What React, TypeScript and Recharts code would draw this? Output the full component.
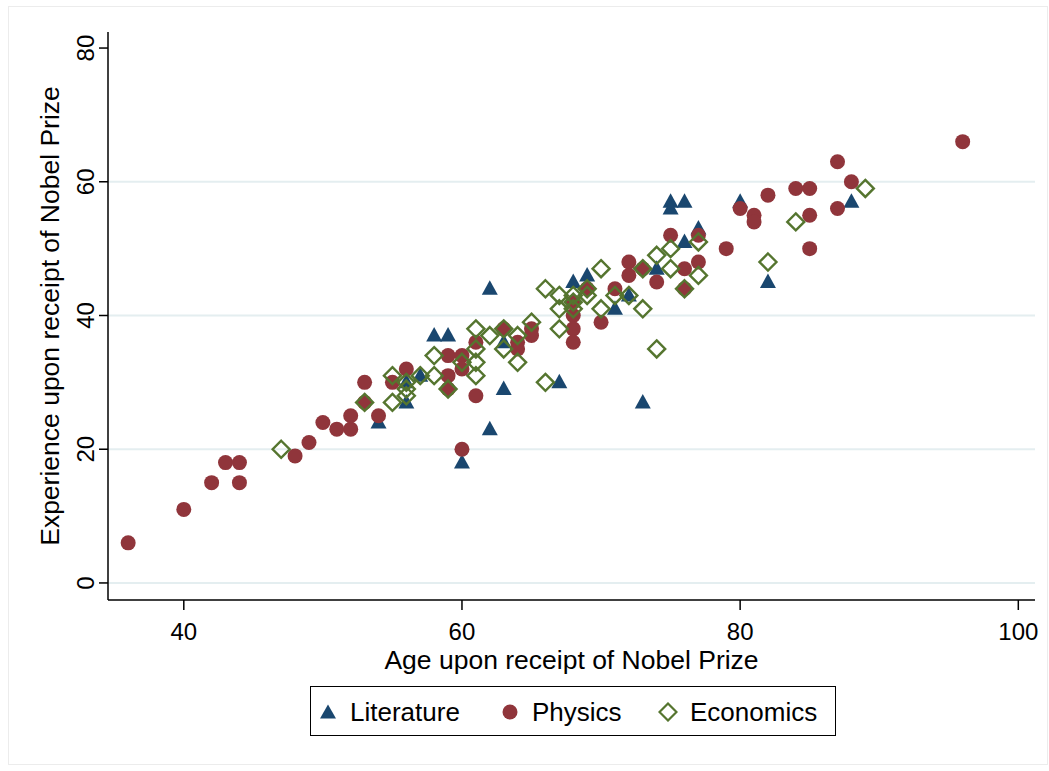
import React from 'react';
import { ScatterChart, Scatter, XAxis, YAxis, ReferenceLine } from 'recharts';

// Nobelpris: alder ved tildeling mot erfaring, tre fagfelt.
const litAge = [54, 56, 56, 57, 58, 59, 60, 62, 62, 63, 63, 67, 68, 69, 71, 72, 73, 74, 75, 75, 76, 76, 77, 80, 82, 88];
const litExp = [24, 27, 30, 31, 37, 37, 18, 44, 23, 36, 29, 30, 45, 46, 41, 43, 27, 47, 57, 56, 57, 51, 53, 57, 45, 57];

const phyAge = [36, 40, 42, 43, 44, 44, 48, 49, 50, 51, 52, 52, 53, 53, 54, 55, 56, 59, 59, 59, 60, 60, 60, 61, 61, 63, 64, 64, 65, 65, 68, 68, 68, 68, 69, 70, 71, 72, 72, 73, 74, 75, 76, 76, 77, 77, 79, 80, 81, 81, 82, 84, 85, 85, 85, 87, 87, 88, 96];
const phyExp = [6, 11, 15, 18, 18, 15, 19, 21, 24, 23, 23, 25, 30, 27, 25, 30, 32, 34, 31, 29, 34, 32, 20, 36, 28, 38, 36, 35, 38, 37, 40, 38, 36, 42, 44, 39, 44, 48, 46, 47, 45, 52, 47, 44, 52, 48, 50, 56, 55, 54, 58, 59, 59, 55, 50, 63, 56, 60, 66];

const ecoAge = [47, 53, 55, 55, 56, 56, 56, 57, 58, 58, 59, 60, 61, 61, 61, 61, 62, 63, 63, 64, 64, 65, 66, 66, 67, 67, 67, 68, 68, 68, 69, 69, 70, 70, 71, 72, 73, 73, 74, 74, 75, 75, 76, 77, 77, 82, 84, 89];
const ecoExp = [20, 27, 31, 27, 29, 28, 30, 31, 34, 31, 29, 33, 38, 35, 33, 31, 37, 38, 35, 37, 33, 39, 44, 30, 43, 41, 38, 43, 42, 41, 44, 43, 47, 41, 43, 43, 41, 47, 49, 35, 50, 47, 44, 51, 46, 48, 54, 59];

const xTicks = [40, 60, 80, 100];
const yTicks = [0, 20, 40, 60, 80];
const gridValues = [0, 20, 40, 60];

const toPoints = (ages: number[], exps: number[]) => ages.map((age, i) => ({ age, exp: exps[i] }));

const C = { lit: '#1a476f', phy: '#90353b', eco: '#55752f', grid: '#e4eef0', ink: '#000' };
const FONT = '"Liberation Sans", Arial, sans-serif';

const Triangle = ({ cx, cy }: any) => (
  <polygon points={`${cx},${cy - 8.5} ${cx - 8},${cy + 6} ${cx + 8},${cy + 6}`} fill={C.lit} />
);
const Dot = ({ cx, cy }: any) => <circle cx={cx} cy={cy} r={7.5} fill={C.phy} />;
const Diamond = ({ cx, cy }: any) => (
  <polygon
    points={`${cx},${cy - 8.5} ${cx + 8.5},${cy} ${cx},${cy + 8.5} ${cx - 8.5},${cy}`}
    fill="none"
    stroke={C.eco}
    strokeWidth={2.4}
  />
);

const YTick = ({ y, payload }: any) => (
  <text x={94} y={y} transform={`rotate(-90, 94, ${y})`} textAnchor="middle" fontSize={24} fontFamily={FONT} fill={C.ink}>
    {payload.value}
  </text>
);

const YTitle = ({ viewBox }: any) => {
  const cy = viewBox.y + viewBox.height / 2;
  return (
    <text x={59} y={cy} transform={`rotate(-90, 59, ${cy})`} textAnchor="middle" fontSize={26.5} fontFamily={FONT} fill={C.ink}>
      Experience upon receipt of Nobel Prize
    </text>
  );
};

const LegendItem = ({ children, label, left }: any) => (
  <div style={{ position: 'absolute', left, top: 0, height: 50, display: 'flex', alignItems: 'center' }}>
    <svg width={20} height={20} style={{ marginRight: 12 }}>{children}</svg>
    <span style={{ fontSize: 26, fontFamily: FONT }}>{label}</span>
  </div>
);

export default function App() {
  return (
    <div style={{ position: 'absolute', left: 0, top: 0, width: 1049, height: 771, background: '#fff' }}>
      <div style={{ position: 'absolute', left: 8, top: 6, width: 1040, height: 759, border: '1px solid #ececec', boxSizing: 'border-box' }} />
      <ScatterChart width={1049} height={771} margin={{ top: 32, right: 14, bottom: 0, left: 0 }} style={{ position: 'absolute', left: 0, top: 0 }}>
        <XAxis
          type="number"
          dataKey="age"
          domain={[34.55, 101.2]}
          ticks={xTicks}
          allowDataOverflow
          height={171}
          tickSize={10}
          tickMargin={13}
          stroke={C.ink}
          strokeWidth={1.5}
          tick={{ fontSize: 24, fontFamily: FONT, fill: C.ink }}
          label={{ value: 'Age upon receipt of Nobel Prize', position: 'insideBottom', offset: 102, style: { fontSize: 26.5, fontFamily: FONT, fill: C.ink } }}
        />
        <YAxis
          type="number"
          dataKey="exp"
          domain={[-2.55, 82.4]}
          ticks={yTicks}
          allowDataOverflow
          width={108}
          tickSize={9}
          stroke={C.ink}
          strokeWidth={1.5}
          tick={<YTick />}
          label={{ content: <YTitle /> }}
        />
        {gridValues.map((v) => (
          <ReferenceLine key={v} y={v} stroke={C.grid} strokeWidth={2} />
        ))}
        <Scatter data={toPoints(litAge, litExp)} shape={<Triangle />} isAnimationActive={false} />
        <Scatter data={toPoints(phyAge, phyExp)} shape={<Dot />} isAnimationActive={false} />
        <Scatter data={toPoints(ecoAge, ecoExp)} shape={<Diamond />} isAnimationActive={false} />
      </ScatterChart>
      <div style={{ position: 'absolute', left: 310, top: 686, width: 526, height: 50, border: '1.5px solid #000', boxSizing: 'border-box' }}>
        <LegendItem label="Literature" left={7}>
          <polygon points="10,2.5 2,16.5 18,16.5" fill={C.lit} />
        </LegendItem>
        <LegendItem label="Physics" left={189}>
          <circle cx={10} cy={10} r={7.5} fill={C.phy} />
        </LegendItem>
        <LegendItem label="Economics" left={347}>
          <polygon points="10,1.5 18.5,10 10,18.5 1.5,10" fill="none" stroke={C.eco} strokeWidth={2.2} />
        </LegendItem>
      </div>
    </div>
  );
}
